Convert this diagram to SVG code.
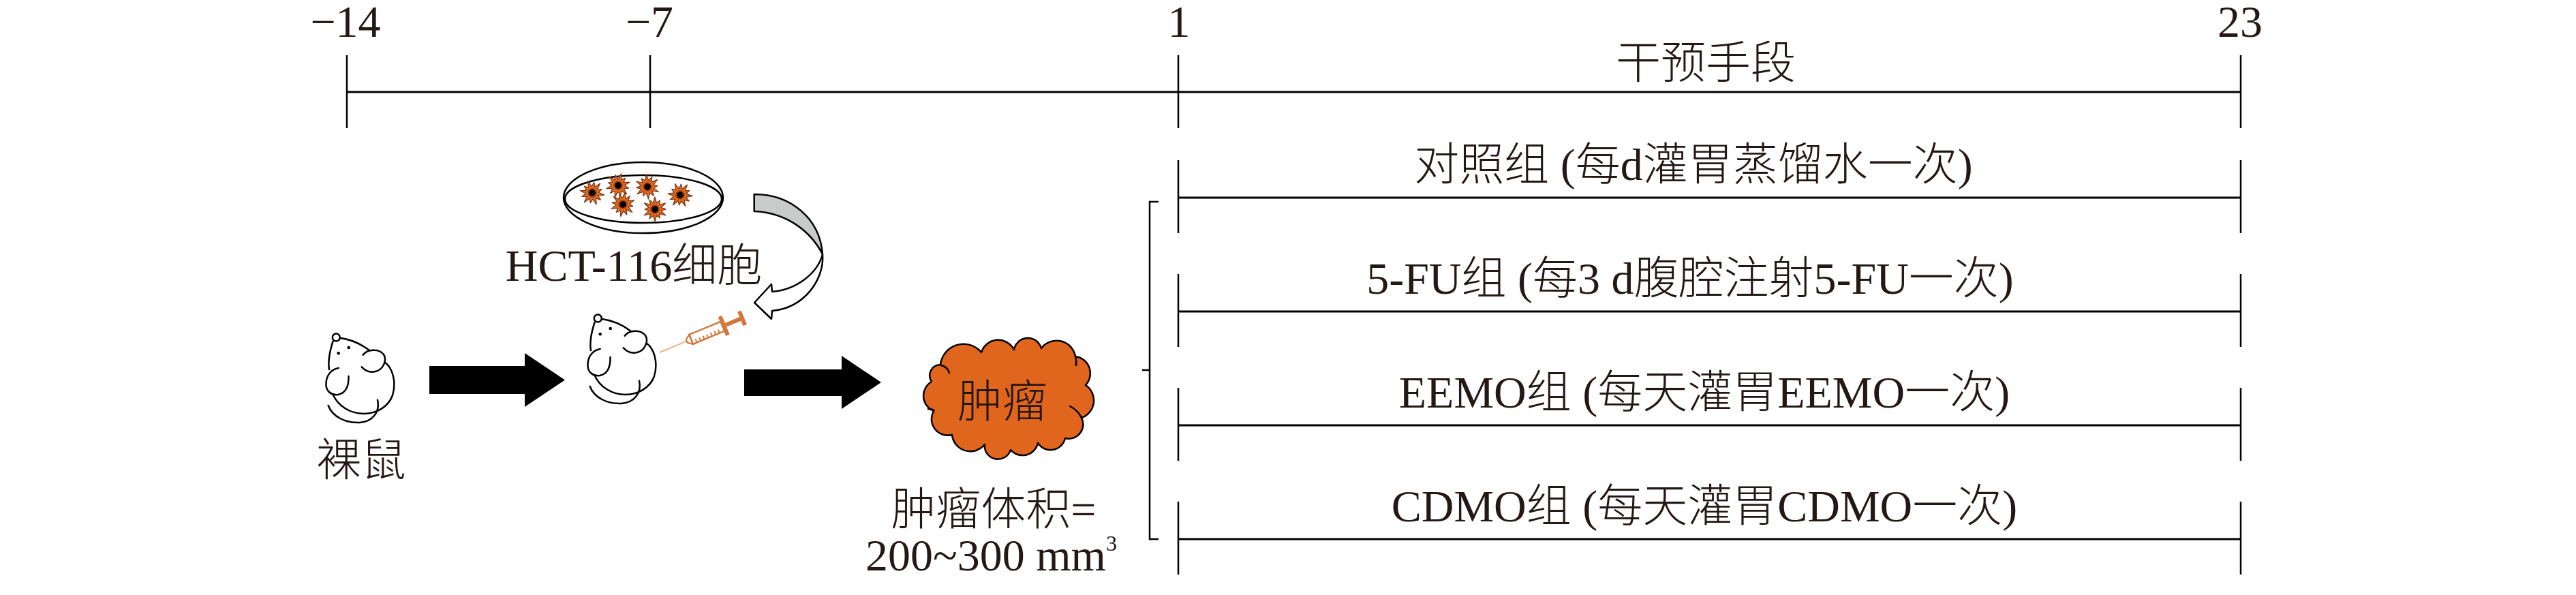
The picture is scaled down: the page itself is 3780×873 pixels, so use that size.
<svg xmlns="http://www.w3.org/2000/svg" width="3780" height="873" viewBox="0 0 3780 873">
<style>
.t{font-family:"Liberation Serif","Noto Sans CJK SC",serif;font-size:66px;font-weight:300;fill:#231815}
.c{text-anchor:middle}
.ln{stroke:#000;stroke-width:3;fill:none}
.tk{stroke:#000;stroke-width:2.5;fill:none}
.ol{stroke:#000;stroke-width:2.5;fill:none;stroke-linecap:round;stroke-linejoin:round}
.blk{fill:#000}
.syr{fill:#D2773A;stroke:none}
</style>
<defs>
<g id="mouseShape" class="ol">
<circle cx="43.3" cy="25" r="5.5" fill="#fff"/>
<path d="M49,26 C65,28 80,35 92,44"/>
<path d="M38.5,31 C34,45 31,60 33,72"/>
<path d="M82.7,50.7 C88,43 105,40 113,50 C118,58 113,72 101,75 C93,77 86,74 80.7,68.3"/>
<path d="M115,61.7 C126,70 132,90 126,110 C120,127 102,137 84,137 C64,137 46,126 38.3,108.3"/>
<path d="M31.7,125 C38,142 58,151 78,150 C96,149 108,135 104,116.7"/>
<path d="M46.7,70 C35,72 28,82 28.5,95 C29,105 37,110 46,109 C56,107 62,98 61.5,82"/>
<circle cx="46.7" cy="48.3" r="2.3" fill="#000" stroke="none"/>
<circle cx="61.7" cy="40" r="2.3" fill="#000" stroke="none"/>
</g>
<g id="cell">
<polygon points="18,0 9,2.4 14,8 6.8,6.8 9,15.6 2.4,9 0,15 -2.4,9 -9,15.6 -6.8,6.8 -14,8 -9,2.4 -18,0 -9,-2.4 -13,-7.5 -6.8,-6.8 -9,-15.6 -2.4,-9 0,-16 2.4,-9 9,-15.6 6.8,-6.8 13,-7.5 9,-2.4" fill="#E06A1E" stroke="#7B3413" stroke-width="1.2" stroke-linejoin="round"/>
<circle r="7" fill="#A8461A"/>
<circle r="4.8" fill="#000"/>
</g>
</defs>

<g id="timeline">
<line class="ln" x1="509" y1="135" x2="3288" y2="135"/>
<line class="tk" x1="509" y1="81" x2="509" y2="188"/>
<line class="tk" x1="954" y1="81" x2="954" y2="188"/>
<line class="tk" x1="1729" y1="81" x2="1729" y2="188"/>
<line class="tk" x1="3288" y1="81" x2="3288" y2="188"/>
<text class="t c" x="507" y="54">−14</text>
<text class="t c" x="953" y="54">−7</text>
<text class="t c" x="1730" y="54">1</text>
<text class="t c" x="3287" y="54">23</text>
<text class="t c" x="2503" y="115">干预手段</text>
</g>

<g id="group-control">
<line class="ln" x1="1729" y1="290" x2="3288" y2="290"/>
<line class="tk" x1="1729" y1="235" x2="1729" y2="342"/>
<line class="tk" x1="3288" y1="235" x2="3288" y2="342"/>
<text class="t c" x="2485" y="264">对照组 (每d灌胃蒸馏水一次)</text>
</g>
<g id="group-5fu">
<line class="ln" x1="1729" y1="457" x2="3288" y2="457"/>
<line class="tk" x1="1729" y1="402" x2="1729" y2="509"/>
<line class="tk" x1="3288" y1="402" x2="3288" y2="509"/>
<text class="t c" x="2480" y="431">5-FU组 (每3 d腹腔注射5-FU一次)</text>
</g>
<g id="group-eemo">
<line class="ln" x1="1729" y1="624" x2="3288" y2="624"/>
<line class="tk" x1="1729" y1="569" x2="1729" y2="676"/>
<line class="tk" x1="3288" y1="569" x2="3288" y2="676"/>
<text class="t c" x="2501" y="598">EEMO组 (每天灌胃EEMO一次)</text>
</g>
<g id="group-cdmo">
<line class="ln" x1="1729" y1="791" x2="3288" y2="791"/>
<line class="tk" x1="1729" y1="736" x2="1729" y2="843"/>
<line class="tk" x1="3288" y1="736" x2="3288" y2="843"/>
<text class="t c" x="2501" y="765">CDMO组 (每天灌胃CDMO一次)</text>
</g>

<g id="mouse-nude">
<use href="#mouseShape" transform="translate(450,470)"/>
<text class="t c" x="530" y="698">裸鼠</text>
</g>

<g id="petri-dish">
<ellipse cx="944" cy="290" rx="117" ry="52" fill="#fff" stroke="#000" stroke-width="2.5"/>
<ellipse cx="944" cy="292" rx="115" ry="35" fill="#fff" stroke="#000" stroke-width="2.5"/>
<use href="#cell" transform="translate(869,283) rotate(10)"/>
<use href="#cell" transform="translate(907,272) rotate(-15)"/>
<use href="#cell" transform="translate(950,274) rotate(25)"/>
<use href="#cell" transform="translate(998,286) rotate(5)"/>
<use href="#cell" transform="translate(914,300) rotate(40)"/>
<use href="#cell" transform="translate(961,307) rotate(-30)"/>
<text class="t c" x="930" y="412">HCT-116细胞</text>
</g>

<g id="mouse-injected">
<use href="#mouseShape" transform="translate(834,442)"/>
</g>

<g id="syringe" transform="translate(968,517) rotate(-22.5)">
<line x1="0" y1="0" x2="44" y2="0" stroke="#E9B48E" stroke-width="2"/>
<polygon points="43,-2.5 50,-7.5 50,7.5 43,2.5" fill="#fff" stroke="#D2773A" stroke-width="2.2"/>
<rect x="50" y="-7.5" width="50" height="15" fill="#fff" stroke="#D2773A" stroke-width="2.5"/>
<g stroke="#D2773A" stroke-width="2">
<line x1="56" y1="7.5" x2="56" y2="2"/>
<line x1="62" y1="7.5" x2="62" y2="2"/>
<line x1="68" y1="7.5" x2="68" y2="2"/>
<line x1="74" y1="7.5" x2="74" y2="2"/>
<line x1="80" y1="7.5" x2="80" y2="2"/>
<line x1="86" y1="7.5" x2="86" y2="2"/>
<line x1="92" y1="7.5" x2="92" y2="2"/>
</g>
<rect class="syr" x="99" y="-15" width="6" height="30"/>
<rect class="syr" x="105" y="-3" width="24" height="6"/>
<rect class="syr" x="128" y="-11" width="6" height="22"/>
</g>

<g id="tumor">
<path d="M1380,535 A34,34 0 0 1 1440,517 A26,26 0 0 1 1488,513 A20.5,20.5 0 0 1 1528,511 A28,28 0 0 1 1578,523 A25,25 0 0 1 1593,565 A27,27 0 0 1 1587,613 A21,21 0 0 1 1563,643 A22,22 0 0 1 1523,650 A23,23 0 0 1 1483,660 A19.5,19.5 0 0 1 1445,652 A27,27 0 0 1 1397,638 A24,24 0 0 1 1370,603 A24,24 0 0 1 1367,560 A16,16 0 0 1 1380,535 Z" fill="#E1661D" stroke="#000" stroke-width="2.5" stroke-linejoin="round"/>
<g class="ol">
<path d="M1381,536 Q1390,538 1393,547"/>
<path d="M1570,596 Q1582,602 1587,613"/>
<path d="M1362,600 Q1372,601 1370,603"/>
<path d="M1578,523 Q1580,530 1579,536"/>
</g>
<text class="t c" x="1471" y="612">肿瘤</text>
<text class="t c" x="1458" y="770">肿瘤体积=</text>
<text class="t" x="1270" y="837">200~300 mm<tspan font-size="32" dy="-29">3</tspan></text>
</g>

<g id="connectors">
<polygon class="blk" points="630,537 770,537 770,518 829,557.5 770,597 770,578 630,578"/>
<polygon class="blk" points="1092,542 1235,542 1235,522 1293,561 1235,600 1235,581 1092,581"/>
<path d="M1106.7,285 C1160,285 1203,320 1207,373 C1190,340 1155,312 1106.7,310 Z" fill="#C9CACA" stroke="#000" stroke-width="2.5" stroke-linejoin="round"/>
<path d="M1207,373 C1210,410 1180,452 1133,456 L1132,468 L1107,444 L1132,417 L1133,428 C1170,425 1200,400 1207,373 Z" fill="#fff" stroke="#000" stroke-width="2.5" stroke-linejoin="round"/>
<path class="tk" d="M1700,296 H1687 V791 H1700 M1687,543 H1676"/>
</g>
</svg>
